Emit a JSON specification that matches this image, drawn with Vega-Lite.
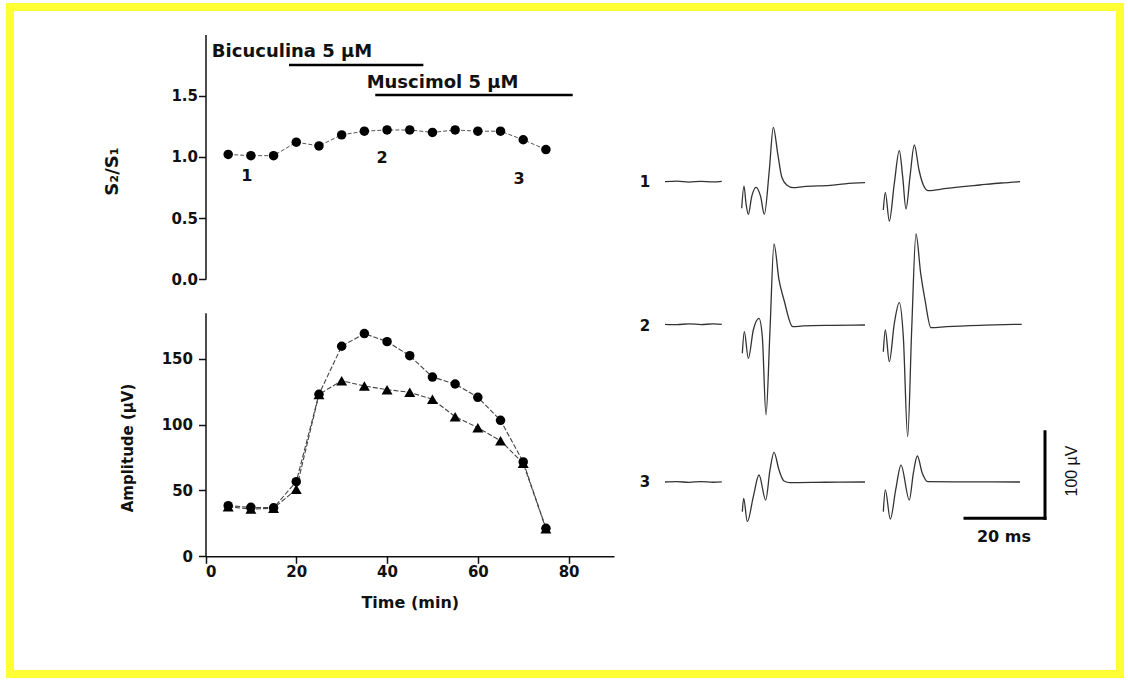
{
  "$schema": "https://vega.github.io/schema/vega-lite/v6.json",
  "width": 1110,
  "height": 667,
  "autosize": {"type": "none"},
  "padding": {"left": 10, "top": 7, "right": 8, "bottom": 6},
  "background": "white",
  "config": {
    "view": {"stroke": "#ffff33", "strokeWidth": 8, "fill": "white"},
    "font": "DejaVu Sans",
    "axis": {
      "grid": false,
      "labelFont": "DejaVu Sans",
      "labelFontWeight": "bold",
      "labelFontSize": 15,
      "labelColor": "#111",
      "titleFont": "DejaVu Sans",
      "titleFontWeight": "bold",
      "titleFontSize": 15,
      "titleColor": "#111",
      "domainColor": "#111",
      "tickColor": "#111",
      "domainWidth": 1.5,
      "tickWidth": 1.5
    }
  },
  "datasets": {
    "s2s1": [
      {"t": 5, "v": 1.02}, {"t": 10, "v": 1.01}, {"t": 15, "v": 1.01},
      {"t": 20, "v": 1.12}, {"t": 25, "v": 1.09}, {"t": 30, "v": 1.18},
      {"t": 35, "v": 1.21}, {"t": 40, "v": 1.22}, {"t": 45, "v": 1.22},
      {"t": 50, "v": 1.2}, {"t": 55, "v": 1.22}, {"t": 60, "v": 1.21},
      {"t": 65, "v": 1.21}, {"t": 70, "v": 1.14}, {"t": 75, "v": 1.06}
    ],
    "numlabels": [
      {"t": 9.1, "v": 0.84, "label": "1"},
      {"t": 38.9, "v": 0.99, "label": "2"},
      {"t": 69.1, "v": 0.82, "label": "3"}
    ],
    "drugs": [
      {"drug": "Bicuculina 5 µM", "t": 18.4, "t2": 48.0, "v": 1.75, "tx": 1.4, "vy": 1.86},
      {"drug": "Muscimol 5 µM", "t": 37.4, "t2": 80.9, "v": 1.506, "tx": 35.5, "vy": 1.606}
    ],
    "amp": [
      {"t": 5, "series": "circle", "v": 38.5}, {"t": 10, "series": "circle", "v": 37.2},
      {"t": 15, "series": "circle", "v": 36.9}, {"t": 20, "series": "circle", "v": 56.7},
      {"t": 25, "series": "circle", "v": 123.1}, {"t": 30, "series": "circle", "v": 159.6},
      {"t": 35, "series": "circle", "v": 169.2}, {"t": 40, "series": "circle", "v": 163.1},
      {"t": 45, "series": "circle", "v": 152.4}, {"t": 50, "series": "circle", "v": 136.2},
      {"t": 55, "series": "circle", "v": 130.9}, {"t": 60, "series": "circle", "v": 120.8},
      {"t": 65, "series": "circle", "v": 103.3}, {"t": 70, "series": "circle", "v": 71.7},
      {"t": 75, "series": "circle", "v": 21.3},
      {"t": 5, "series": "triangle", "v": 37.7}, {"t": 10, "series": "triangle", "v": 35.9},
      {"t": 15, "series": "triangle", "v": 36.5}, {"t": 20, "series": "triangle", "v": 50.9},
      {"t": 25, "series": "triangle", "v": 123.0}, {"t": 30, "series": "triangle", "v": 133.4},
      {"t": 35, "series": "triangle", "v": 129.4}, {"t": 40, "series": "triangle", "v": 126.6},
      {"t": 45, "series": "triangle", "v": 124.6}, {"t": 50, "series": "triangle", "v": 119.3},
      {"t": 55, "series": "triangle", "v": 106.1}, {"t": 60, "series": "triangle", "v": 97.7},
      {"t": 65, "series": "triangle", "v": 87.8}, {"t": 70, "series": "triangle", "v": 70.7},
      {"t": 75, "series": "triangle", "v": 21.0}
    ],
    "trace1": [
      {"seg": "a", "ms": 0, "uv": 0}, {"seg": "a", "ms": 3, "uv": 0.6}, {"seg": "a", "ms": 6, "uv": -0.4},
      {"seg": "a", "ms": 9, "uv": 0.4}, {"seg": "a", "ms": 12, "uv": -0.3}, {"seg": "a", "ms": 14.2, "uv": 0.3},
      {"seg": "b", "ms": 19.17, "uv": -30.7}, {"seg": "b", "ms": 19.75, "uv": -5}, {"seg": "b", "ms": 20.25, "uv": -25},
      {"seg": "b", "ms": 20.83, "uv": -37.7}, {"seg": "b", "ms": 21.67, "uv": -17.3}, {"seg": "b", "ms": 22.75, "uv": -6.5},
      {"seg": "b", "ms": 23.92, "uv": -17.3}, {"seg": "b", "ms": 24.83, "uv": -37.7}, {"seg": "b", "ms": 26.08, "uv": 13.5},
      {"seg": "b", "ms": 27.08, "uv": 62.8}, {"seg": "b", "ms": 28.17, "uv": 32.8}, {"seg": "b", "ms": 29.17, "uv": 5.8},
      {"seg": "b", "ms": 30.42, "uv": -3.8}, {"seg": "b", "ms": 32.08, "uv": -6.9}, {"seg": "b", "ms": 34.58, "uv": -5.7},
      {"seg": "b", "ms": 41.25, "uv": -4.2}, {"seg": "b", "ms": 45, "uv": -2.4}, {"seg": "b", "ms": 50, "uv": -1.1},
      {"seg": "c", "ms": 54.58, "uv": -32.7}, {"seg": "c", "ms": 55.08, "uv": -12.3}, {"seg": "c", "ms": 56.08, "uv": -45.4},
      {"seg": "c", "ms": 57.33, "uv": -1.9}, {"seg": "c", "ms": 58.58, "uv": 35.8}, {"seg": "c", "ms": 59.42, "uv": 5.8},
      {"seg": "c", "ms": 60.25, "uv": -31.5}, {"seg": "c", "ms": 61.25, "uv": 5.8}, {"seg": "c", "ms": 62.33, "uv": 42.4},
      {"seg": "c", "ms": 63.5, "uv": 13.5}, {"seg": "c", "ms": 64.58, "uv": -3.8}, {"seg": "c", "ms": 65.83, "uv": -10.3},
      {"seg": "c", "ms": 70.42, "uv": -7.7}, {"seg": "c", "ms": 78.75, "uv": -3.8}, {"seg": "c", "ms": 84, "uv": -1.5},
      {"seg": "c", "ms": 88.75, "uv": 0}
    ],
    "trace2": [
      {"seg": "a", "ms": 0, "uv": 0}, {"seg": "a", "ms": 3, "uv": -0.4}, {"seg": "a", "ms": 6, "uv": 0.5},
      {"seg": "a", "ms": 9, "uv": -0.3}, {"seg": "a", "ms": 12, "uv": 0.4}, {"seg": "a", "ms": 14.2, "uv": 0},
      {"seg": "b", "ms": 19.33, "uv": -33.5}, {"seg": "b", "ms": 19.83, "uv": -8.5}, {"seg": "b", "ms": 20.83, "uv": -39.3},
      {"seg": "b", "ms": 22.08, "uv": -6.6}, {"seg": "b", "ms": 23.5, "uv": 6.9}, {"seg": "b", "ms": 24.33, "uv": -14.3},
      {"seg": "b", "ms": 25.25, "uv": -104.7}, {"seg": "b", "ms": 26.25, "uv": -6.6}, {"seg": "b", "ms": 27.25, "uv": 92.7},
      {"seg": "b", "ms": 28.5, "uv": 51.2}, {"seg": "b", "ms": 29.75, "uv": 28.1}, {"seg": "b", "ms": 31.92, "uv": -2.7},
      {"seg": "b", "ms": 34.58, "uv": -1.9}, {"seg": "b", "ms": 42, "uv": -1.2}, {"seg": "b", "ms": 50, "uv": -0.8},
      {"seg": "c", "ms": 54.58, "uv": -31.6}, {"seg": "c", "ms": 55.08, "uv": -6.6}, {"seg": "c", "ms": 56.08, "uv": -43.1},
      {"seg": "c", "ms": 57.33, "uv": 1.1}, {"seg": "c", "ms": 58.58, "uv": 25}, {"seg": "c", "ms": 59.58, "uv": -14.3},
      {"seg": "c", "ms": 60.67, "uv": -129.7}, {"seg": "c", "ms": 61.67, "uv": -6.6}, {"seg": "c", "ms": 62.75, "uv": 104.3},
      {"seg": "c", "ms": 63.92, "uv": 58.9}, {"seg": "c", "ms": 65, "uv": 28.1}, {"seg": "c", "ms": 66.5, "uv": -3.9},
      {"seg": "c", "ms": 70.42, "uv": -2.7}, {"seg": "c", "ms": 80, "uv": -1.0}, {"seg": "c", "ms": 89.17, "uv": 0}
    ],
    "trace3": [
      {"seg": "a", "ms": 0, "uv": 0}, {"seg": "a", "ms": 3, "uv": 0.4}, {"seg": "a", "ms": 6, "uv": -0.4},
      {"seg": "a", "ms": 9, "uv": 0.5}, {"seg": "a", "ms": 12, "uv": -0.3}, {"seg": "a", "ms": 14.2, "uv": 0.2},
      {"seg": "b", "ms": 19.33, "uv": -34.2}, {"seg": "b", "ms": 19.67, "uv": -18.9}, {"seg": "b", "ms": 20.58, "uv": -45.8},
      {"seg": "b", "ms": 22.08, "uv": -16.9}, {"seg": "b", "ms": 23.5, "uv": 8.1}, {"seg": "b", "ms": 25.17, "uv": -20.8},
      {"seg": "b", "ms": 26.25, "uv": 13.9}, {"seg": "b", "ms": 27.25, "uv": 34.3}, {"seg": "b", "ms": 28.5, "uv": 13.9},
      {"seg": "b", "ms": 29.75, "uv": 1.2}, {"seg": "b", "ms": 31.25, "uv": -0.8}, {"seg": "b", "ms": 40, "uv": -0.3},
      {"seg": "b", "ms": 50, "uv": 0},
      {"seg": "c", "ms": 54.58, "uv": -34.2}, {"seg": "c", "ms": 55.08, "uv": -9.2}, {"seg": "c", "ms": 56.33, "uv": -42.7},
      {"seg": "c", "ms": 57.67, "uv": -9.2}, {"seg": "c", "ms": 59, "uv": 19.6}, {"seg": "c", "ms": 61.08, "uv": -20.8},
      {"seg": "c", "ms": 62.08, "uv": 10}, {"seg": "c", "ms": 63.08, "uv": 30}, {"seg": "c", "ms": 64.33, "uv": 10},
      {"seg": "c", "ms": 65.67, "uv": 0.4}, {"seg": "c", "ms": 75, "uv": 0.2}, {"seg": "c", "ms": 88.75, "uv": 0}
    ],
    "rowlabel1": [{"ms": -5, "uv": 0, "label": "1"}],
    "rowlabel2": [{"ms": -5, "uv": -2, "label": "2"}],
    "rowlabel3": [{"ms": -5, "uv": 0, "label": "3"}],
    "scalebars": [
      {"ms": 75, "ms2": 95, "uv": -42, "uv2": -42},
      {"ms": 95, "ms2": 95, "uv": -42, "uv2": 58}
    ],
    "scaletext": [{"ms": 84.75, "uv": -63, "label": "20 ms"}],
    "scaletextv": [{"ms": 101.75, "uv": 12.7, "label": "100 µV"}]
  },
  "layer": [
    {
      "layer": [
        {
          "data": {"name": "s2s1"},
          "mark": {"type": "line", "color": "#555", "strokeWidth": 1, "strokeDash": [4, 2]},
          "encoding": {
            "x": {"field": "t", "type": "quantitative", "scale": {"domain": [0, 90], "range": [195.5, 604], "nice": false, "zero": false}, "axis": null},
            "y": {"field": "v", "type": "quantitative", "scale": {"domain": [0, 2], "range": [272.3, 27.5], "nice": false, "zero": false},
              "axis": {"orient": "left", "offset": -195.5, "values": [0, 0.5, 1, 1.5], "format": ".1f", "title": "S₂/S₁",
                "titleX": -93, "titleY": 164, "titleAngle": -90, "titleAlign": "center", "titleBaseline": "middle", "titleFontSize": 18,
                "tickSize": 7, "labelPadding": 1}}
          }
        },
        {
          "data": {"name": "s2s1"},
          "mark": {"type": "point", "shape": "circle", "filled": true, "color": "black", "opacity": 1, "size": 90},
          "encoding": {
            "x": {"field": "t", "type": "quantitative"},
            "y": {"field": "v", "type": "quantitative"}
          }
        },
        {
          "data": {"name": "numlabels"},
          "mark": {"type": "text", "font": "DejaVu Sans", "fontWeight": "bold", "fontSize": 16, "color": "#111", "align": "center", "baseline": "middle"},
          "encoding": {
            "x": {"field": "t", "type": "quantitative"},
            "y": {"field": "v", "type": "quantitative"},
            "text": {"field": "label"}
          }
        },
        {
          "data": {"name": "drugs"},
          "mark": {"type": "rule", "color": "black", "strokeWidth": 2.5},
          "encoding": {
            "x": {"field": "t", "type": "quantitative"},
            "x2": {"field": "t2"},
            "y": {"field": "v", "type": "quantitative"}
          }
        },
        {
          "data": {"name": "drugs"},
          "mark": {"type": "text", "font": "DejaVu Sans", "fontWeight": "bold", "fontSize": 18, "color": "#111", "align": "left", "baseline": "middle"},
          "encoding": {
            "x": {"field": "tx", "type": "quantitative"},
            "y": {"field": "vy", "type": "quantitative"},
            "text": {"field": "drug"}
          }
        }
      ]
    },
    {
      "data": {"name": "amp"},
      "layer": [
        {
          "mark": {"type": "line", "color": "#444", "strokeWidth": 1.1, "strokeDash": [5, 2]},
          "encoding": {
            "x": {"field": "t", "type": "quantitative", "scale": {"domain": [0, 90], "range": [195.5, 604], "nice": false, "zero": false},
              "axis": {"orient": "bottom", "offset": -117.7, "values": [0, 20, 40, 60, 80], "title": "Time (min)", "titleFontSize": 16, "tickSize": 7, "labelPadding": 1, "titlePadding": 15}},
            "y": {"field": "v", "type": "quantitative", "scale": {"domain": [0, 185], "range": [549.3, 305.8], "nice": false, "zero": false},
              "axis": {"orient": "left", "offset": -195.5, "values": [0, 50, 100, 150], "title": "Amplitude (µV)",
                "titleX": -78.5, "titleY": 440.5, "titleAngle": -90, "titleAlign": "center", "titleBaseline": "middle",
                "tickSize": 7, "labelPadding": 6}},
            "detail": {"field": "series"}
          }
        },
        {
          "mark": {"type": "point", "filled": true, "color": "black", "opacity": 1},
          "encoding": {
            "x": {"field": "t", "type": "quantitative"},
            "y": {"field": "v", "type": "quantitative"},
            "shape": {"field": "series", "type": "nominal", "scale": {"domain": ["circle", "triangle"], "range": ["circle", "triangle-up"]}, "legend": null},
            "size": {"field": "series", "type": "nominal", "scale": {"domain": ["circle", "triangle"], "range": [90, 120]}, "legend": null}
          }
        }
      ]
    },
    {
      "encoding": {
        "x": {"field": "ms", "type": "quantitative", "scale": {"domain": [0, 100], "range": [655, 1055], "nice": false, "zero": false}, "axis": null}
      },
      "layer": [
        {
          "encoding": {
            "y": {"field": "uv", "type": "quantitative", "scale": {"domain": [-200, 200], "range": [347.9, 1.5], "nice": false, "zero": false}, "axis": null}
          },
          "layer": [
            {"data": {"name": "trace1"}, "mark": {"type": "line", "color": "#333", "strokeWidth": 1.3, "interpolate": "monotone"}, "encoding": {"detail": {"field": "seg"}}},
            {"data": {"name": "rowlabel1"}, "mark": {"type": "text", "font": "DejaVu Sans", "fontWeight": "bold", "fontSize": 15, "color": "#111"}, "encoding": {"text": {"field": "label"}}}
          ]
        },
        {
          "encoding": {
            "y": {"field": "uv", "type": "quantitative", "scale": {"domain": [-200, 200], "range": [490.5, 144.1], "nice": false, "zero": false}, "axis": null}
          },
          "layer": [
            {"data": {"name": "trace2"}, "mark": {"type": "line", "color": "#333", "strokeWidth": 1.3, "interpolate": "monotone"}, "encoding": {"detail": {"field": "seg"}}},
            {"data": {"name": "rowlabel2"}, "mark": {"type": "text", "font": "DejaVu Sans", "fontWeight": "bold", "fontSize": 15, "color": "#111"}, "encoding": {"text": {"field": "label"}}}
          ]
        },
        {
          "encoding": {
            "y": {"field": "uv", "type": "quantitative", "scale": {"domain": [-200, 200], "range": [648.2, 301.8], "nice": false, "zero": false}, "axis": null}
          },
          "layer": [
            {"data": {"name": "trace3"}, "mark": {"type": "line", "color": "#333", "strokeWidth": 1.3, "interpolate": "monotone"}, "encoding": {"detail": {"field": "seg"}}},
            {"data": {"name": "rowlabel3"}, "mark": {"type": "text", "font": "DejaVu Sans", "fontWeight": "bold", "fontSize": 15, "color": "#111"}, "encoding": {"text": {"field": "label"}}},
            {"data": {"name": "scalebars"}, "mark": {"type": "rule", "color": "black", "strokeWidth": 3, "strokeCap": "square"}, "encoding": {"x2": {"field": "ms2"}, "y2": {"field": "uv2"}}},
            {"data": {"name": "scaletext"}, "mark": {"type": "text", "font": "DejaVu Sans", "fontWeight": "bold", "fontSize": 16, "color": "#111"}, "encoding": {"text": {"field": "label"}}},
            {"data": {"name": "scaletextv"}, "mark": {"type": "text", "font": "Liberation Sans", "fontSize": 16, "color": "#111", "angle": 270}, "encoding": {"text": {"field": "label"}}}
          ]
        }
      ],
      "resolve": {"scale": {"y": "independent"}}
    }
  ],
  "resolve": {"scale": {"x": "independent", "y": "independent"}, "axis": {"x": "independent", "y": "independent"}}
}
